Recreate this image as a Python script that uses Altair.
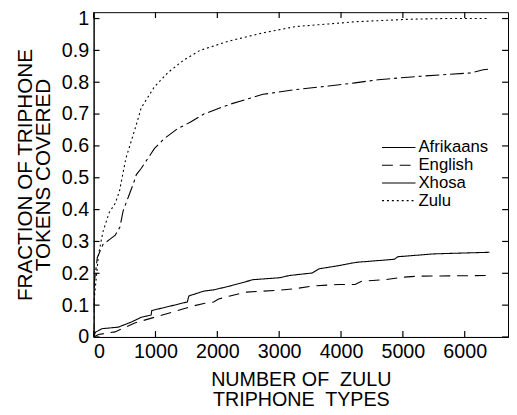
import altair as alt
import pandas as pd

FONT = "Liberation Sans"

langs = ["Afrikaans", "English", "Xhosa", "Zulu"]

afr_x = [0, 30, 133, 400, 611, 771, 930, 940, 1515, 1540, 1781, 1940, 2206, 2578, 3004, 3163, 3536, 3642, 3961, 4174, 4280, 4864, 4917, 5502, 6400]
afr_y = [0, 0.015, 0.026, 0.031, 0.047, 0.062, 0.069, 0.083, 0.11, 0.129, 0.144, 0.148, 0.16, 0.18, 0.186, 0.193, 0.201, 0.214, 0.224, 0.232, 0.235, 0.244, 0.252, 0.261, 0.266]

eng_x = [0, 80, 346, 665, 984, 1303, 1622, 1781, 1940, 2020, 2206, 2472, 3004, 3270, 3536, 3961, 4226, 4332, 4705, 5024, 5236, 6400]
eng_y = [0, 0.008, 0.016, 0.044, 0.062, 0.08, 0.098, 0.105, 0.11, 0.119, 0.129, 0.141, 0.147, 0.152, 0.16, 0.165, 0.165, 0.175, 0.18, 0.188, 0.191, 0.193]

xho_x = [0, 10, 60, 150, 250, 350, 425, 478, 558, 638, 691, 771, 877, 984, 1143, 1356, 1568, 1781, 2206, 2738, 3270, 3800, 4226, 4600, 5290, 6088, 6300, 6400]
xho_y = [0, 0.17, 0.25, 0.29, 0.305, 0.32, 0.345, 0.397, 0.438, 0.479, 0.51, 0.53, 0.561, 0.592, 0.623, 0.654, 0.675, 0.70, 0.731, 0.762, 0.777, 0.788, 0.798, 0.808, 0.819, 0.829, 0.839, 0.841]

zul_x = [0, 30, 80, 150, 250, 350, 420, 480, 520, 600, 680, 770, 980, 1200, 1460, 1720, 2200, 2740, 3270, 3800, 4230, 5130, 5660, 6400]
zul_y = [0.10, 0.16, 0.26, 0.33, 0.39, 0.42, 0.46, 0.52, 0.56, 0.61, 0.66, 0.72, 0.785, 0.83, 0.87, 0.90, 0.93, 0.955, 0.975, 0.983, 0.99, 0.998, 1.0, 1.0]

x_ticks = [0, 1000, 2000, 3000, 4000, 5000, 6000]
y_ticks = [0, 0.1, 0.2, 0.3, 0.4, 0.5, 0.6, 0.7, 0.8, 0.9, 1]

series = {"Afrikaans": (afr_x, afr_y), "English": (eng_x, eng_y),
          "Xhosa": (xho_x, xho_y), "Zulu": (zul_x, zul_y)}
rows = []
for name, (xs, ys) in series.items():
    for i, (a, b) in enumerate(zip(xs, ys)):
        rows.append({"lang": name, "x": a, "y": b, "i": i})
df = pd.DataFrame(rows)

W, H = 421, 330
TL = 6
XMAX, YMAX = 6700, 1.02
xscale = alt.Scale(domain=[0, XMAX], nice=False, zero=False)
yscale = alt.Scale(domain=[0, YMAX], nice=False, zero=False)
# tick length expressed in data units of each scale
tlx = XMAX * TL / W
tly = YMAX * TL / H

xaxis = alt.Axis(values=x_ticks, format="d", ticks=False, grid=False,
                 labelPadding=5, labelFontSize=20, labelOverlap=False,
                 title=["NUMBER OF\u00a0 ZULU", "TRIPHONE\u00a0 TYPES"],
                 titleFontSize=20, titleLineHeight=21, titlePadding=8)
yaxis = alt.Axis(values=y_ticks, format="~g", ticks=False, grid=False,
                 labelPadding=5, labelFontSize=20, labelOverlap=False,
                 title=["FRACTION OF TRIPHONE", "TOKENS COVERED"],
                 titleFontSize=21, titleLineHeight=18, titlePadding=8)

line_dash = [[1, 0], [11, 7], [14, 4, 3, 4], [2, 3]]
legend_dash = [[1, 0], [11, 7], [1, 0], [2, 3]]

lines = alt.Chart(df).mark_line(color="black", strokeWidth=1.1, clip=True).encode(
    x=alt.X("x:Q", scale=xscale, axis=xaxis),
    y=alt.Y("y:Q", scale=yscale, axis=yaxis),
    strokeDash=alt.StrokeDash("lang:N", scale=alt.Scale(domain=langs, range=line_dash), legend=None),
    detail="lang:N",
    order="i:Q",
)

xt = pd.DataFrame({"x": x_ticks})
yt = pd.DataFrame({"y": y_ticks})
tick_b = alt.Chart(xt).mark_rule(color="black", strokeWidth=1.2).encode(
    x=alt.X("x:Q", scale=xscale, axis=None),
    y=alt.Y(datum=0, scale=yscale, axis=None), y2=alt.Y2(datum=tly))
tick_t = alt.Chart(xt).mark_rule(color="black", strokeWidth=1.2).encode(
    x=alt.X("x:Q", scale=xscale, axis=None),
    y=alt.Y(datum=YMAX, scale=yscale, axis=None), y2=alt.Y2(datum=YMAX - tly))
tick_l = alt.Chart(yt).mark_rule(color="black", strokeWidth=1.2).encode(
    y=alt.Y("y:Q", scale=yscale, axis=None),
    x=alt.X(datum=0, scale=xscale, axis=None), x2=alt.X2(datum=tlx))
tick_r = alt.Chart(yt).mark_rule(color="black", strokeWidth=1.2).encode(
    y=alt.Y("y:Q", scale=yscale, axis=None),
    x=alt.X(datum=XMAX, scale=xscale, axis=None), x2=alt.X2(datum=XMAX - tlx))

# manual legend (Xhosa drawn solid in the legend, as in the original figure)
leg_rows = [137.5, 155.5, 173.5, 191.5]
leg_layers = []
for name, dash, ypos in zip(langs, legend_dash, leg_rows):
    ldf = pd.DataFrame({"lang": [name]})
    leg_layers.append(alt.Chart(ldf).mark_rule(color="black", strokeWidth=1.1, strokeDash=dash).encode(
        x=alt.value(293), x2=alt.value(327), y=alt.value(ypos)))
    leg_layers.append(alt.Chart(ldf).mark_text(align="left", baseline="middle", fontSize=17,
                                               font=FONT, color="black").encode(
        x=alt.value(330), y=alt.value(ypos), text="lang:N"))

chart = alt.layer(lines, tick_b, tick_t, tick_l, tick_r, *leg_layers).resolve_axis(
    x="independent", y="independent"
).properties(
    width=W, height=H,
    padding={"left": 87, "top": 1, "right": 1, "bottom": 75},
    autosize=alt.AutoSizeParams(type="none"),
).configure(font=FONT, background="white").configure_view(
    stroke="black", strokeWidth=1
).configure_axis(
    labelFont=FONT, titleFont=FONT, labelColor="black", titleColor="black",
    titleFontWeight="normal", domainColor="black", domainWidth=1,
)

chart.save("out.html", embed_options={"renderer": "svg", "actions": False})
